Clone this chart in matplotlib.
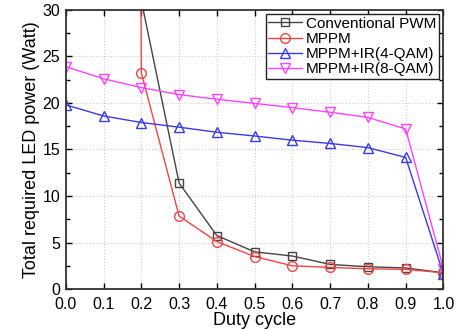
import numpy as np
import matplotlib
matplotlib.use("Agg")
import matplotlib.pyplot as plt
from matplotlib.ticker import MultipleLocator

plt.rcParams['font.family'] = ['Liberation Sans', 'DejaVu Sans']

duty = [0.0, 0.1, 0.2, 0.3, 0.4, 0.5, 0.6, 0.7, 0.8, 0.9, 1.0]
duty_pwm = [0.2, 0.3, 0.4, 0.5, 0.6, 0.7, 0.8, 0.9, 1.0]
pwm = [31.0, 11.4, 5.75, 4.0, 3.55, 2.65, 2.4, 2.27, 1.75]
duty_mppm = [0.1, 0.2, 0.3, 0.4, 0.5, 0.6, 0.7, 0.8, 0.9, 1.0]
mppm = [900.0, 23.25, 7.85, 5.1, 3.5, 2.5, 2.33, 2.18, 2.12, 1.75]
ir4 = [19.8, 18.6, 17.9, 17.4, 16.85, 16.45, 16.0, 15.65, 15.2, 14.15, 1.6]
ir8 = [23.9, 22.6, 21.65, 20.9, 20.4, 19.95, 19.5, 19.0, 18.45, 17.2, 2.2]

fig = plt.figure(figsize=(4.6, 3.3), dpi=100)
ax = fig.add_axes([0.143, 0.124, 0.821, 0.846])

ax.plot(duty_pwm, pwm, color='#444444', lw=1.0, marker='s', ms=6,
        mfc='none', mew=1.0, label='Conventional PWM')
ax.plot(duty_mppm, mppm, color='#f04545', lw=1.0, marker='o', ms=7,
        mfc='none', mew=1.0, label='MPPM')
ax.plot(duty, ir4, color='#3a3ae6', lw=1.0, marker='^', ms=7,
        mfc='none', mew=1.0, label='MPPM+IR(4-QAM)')
ax.plot(duty, ir8, color='#ff44ff', lw=1.0, marker='v', ms=7,
        mfc='none', mew=1.0, label='MPPM+IR(8-QAM)')

ax.set_xlim(0, 1.0)
ax.set_ylim(0, 30)
ax.xaxis.set_major_locator(MultipleLocator(0.1))
ax.yaxis.set_major_locator(MultipleLocator(5))
ax.yaxis.set_minor_locator(MultipleLocator(2.5))
ax.xaxis.set_major_formatter(matplotlib.ticker.FormatStrFormatter('%.1f'))
ax.tick_params(which='both', direction='in', top=True, right=True,
               labelsize=11.5, width=1.0)
ax.tick_params(which='major', length=4)
ax.tick_params(which='minor', length=3)
ax.tick_params(axis='y', pad=4)
ax.tick_params(axis='x', pad=5.5)
ax.grid(True, which='major', color='#cccccc', ls=':', lw=0.8)
for s in ax.spines.values():
    s.set_linewidth(1.3)
    s.set_color('#333333')

ax.set_xlabel('Duty cycle', fontsize=13, labelpad=0)
ax.set_ylabel('Total required LED power (Watt)', fontsize=13, labelpad=2)

leg = ax.legend(loc='upper right', fontsize=11, frameon=True, fancybox=False,
                edgecolor='#222222', framealpha=1, borderpad=0.15,
                labelspacing=0.08, handlelength=2.2, handletextpad=0.3,
                borderaxespad=0.3)
leg.get_frame().set_linewidth(1.0)

fig.savefig('out.png', dpi=100)
